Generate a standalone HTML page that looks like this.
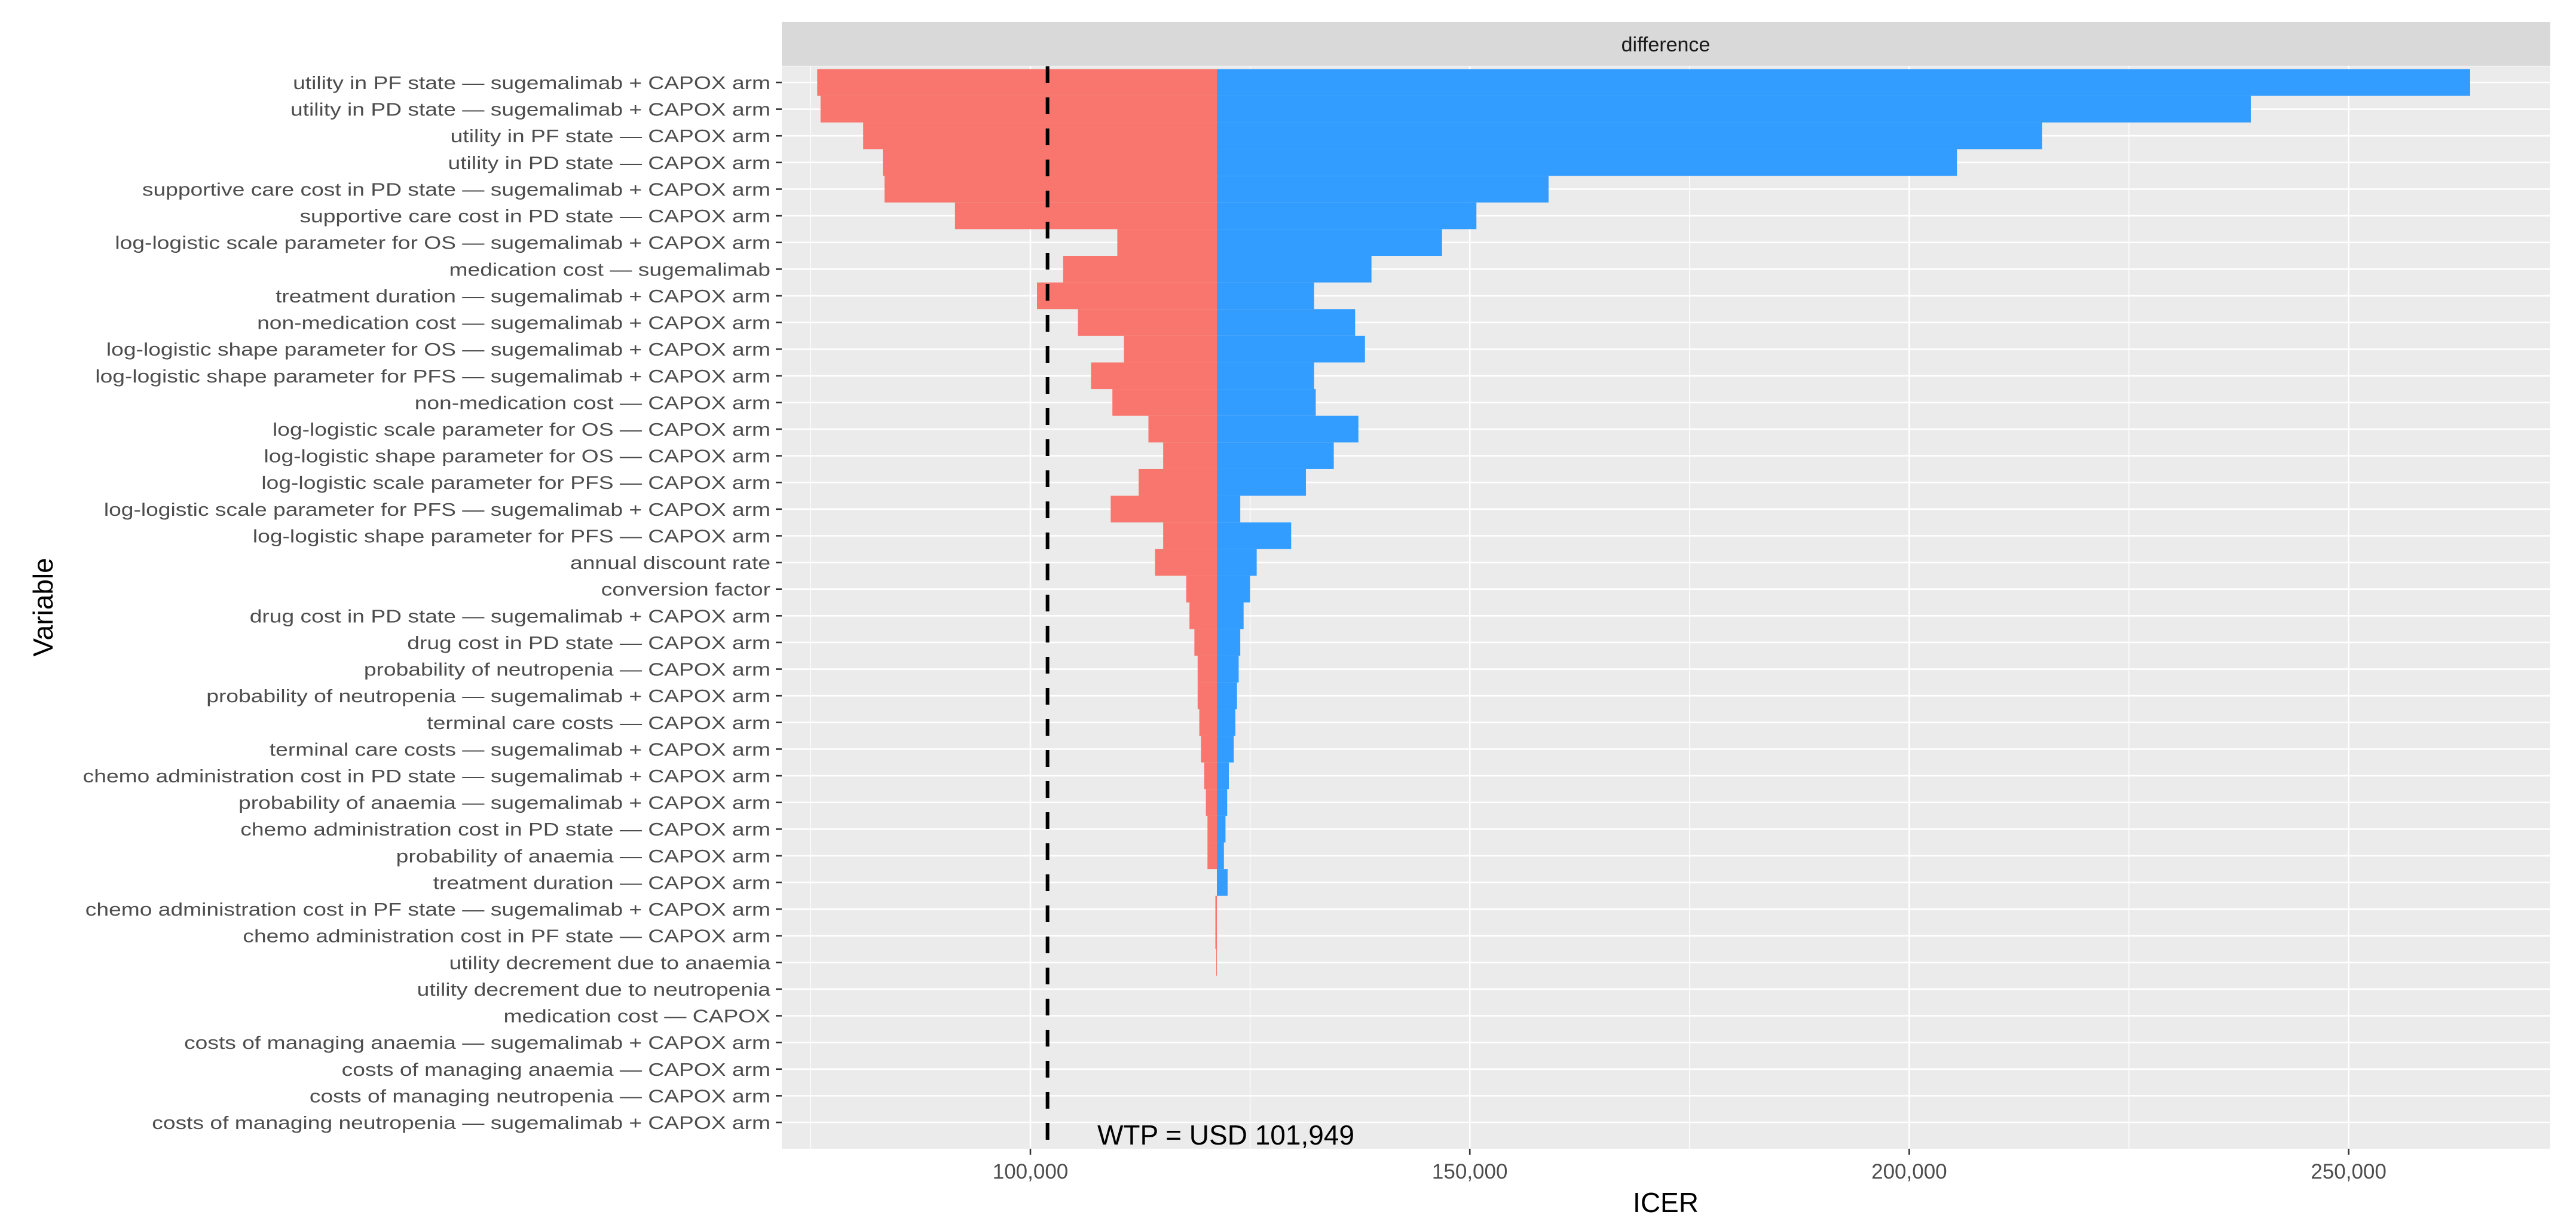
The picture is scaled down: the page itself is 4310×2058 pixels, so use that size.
<!DOCTYPE html>
<html><head><meta charset="utf-8"><style>
html,body{margin:0;padding:0;background:#fff}
svg{display:block;font-family:"Liberation Sans",Arial,sans-serif}
</style></head><body>
<svg id="chart" width="4310" height="2058" viewBox="0 0 4310 2058">
<rect x="0" y="0" width="4310" height="2058" fill="#fff"/>
<rect x="1308" y="37" width="2959" height="73" fill="#d9d9d9"/>
<text x="2787" y="86" font-size="34" fill="#1a1a1a" text-anchor="middle">difference</text>
<rect x="1308" y="111" width="2959" height="1811" fill="#ebebeb"/>
<g id="grid"></g><g id="bars"></g><g id="ylabels"></g><g id="xlabels"></g>
<text x="1836" y="1915" font-size="46" fill="#000">WTP = USD 101,949</text>
<text x="2787" y="2028" font-size="46" fill="#000" text-anchor="middle">ICER</text>
<text x="0" y="0" font-size="46" fill="#000" text-anchor="middle" transform="translate(88,1016) rotate(-90)">Variable</text>
</svg>
<script>
const variables = ["utility in PF state — sugemalimab + CAPOX arm","utility in PD state — sugemalimab + CAPOX arm","utility in PF state — CAPOX arm","utility in PD state — CAPOX arm","supportive care cost in PD state — sugemalimab + CAPOX arm","supportive care cost in PD state — CAPOX arm","log-logistic scale parameter for OS — sugemalimab + CAPOX arm","medication cost — sugemalimab","treatment duration — sugemalimab + CAPOX arm","non-medication cost — sugemalimab + CAPOX arm","log-logistic shape parameter for OS — sugemalimab + CAPOX arm","log-logistic shape parameter for PFS — sugemalimab + CAPOX arm","non-medication cost — CAPOX arm","log-logistic scale parameter for OS — CAPOX arm","log-logistic shape parameter for OS — CAPOX arm","log-logistic scale parameter for PFS — CAPOX arm","log-logistic scale parameter for PFS — sugemalimab + CAPOX arm","log-logistic shape parameter for PFS — CAPOX arm","annual discount rate","conversion factor","drug cost in PD state — sugemalimab + CAPOX arm","drug cost in PD state — CAPOX arm","probability of neutropenia — CAPOX arm","probability of neutropenia — sugemalimab + CAPOX arm","terminal care costs — CAPOX arm","terminal care costs — sugemalimab + CAPOX arm","chemo administration cost in PD state — sugemalimab + CAPOX arm","probability of anaemia — sugemalimab + CAPOX arm","chemo administration cost in PD state — CAPOX arm","probability of anaemia — CAPOX arm","treatment duration — CAPOX arm","chemo administration cost in PF state — sugemalimab + CAPOX arm","chemo administration cost in PF state — CAPOX arm","utility decrement due to anaemia","utility decrement due to neutropenia","medication cost — CAPOX","costs of managing anaemia — sugemalimab + CAPOX arm","costs of managing anaemia — CAPOX arm","costs of managing neutropenia — CAPOX arm","costs of managing neutropenia — sugemalimab + CAPOX arm"];
const baseICER = 121220;
const lowValues = [75740,76120,80970,83210,83400,91420,109890,103730,100750,105410,110640,106900,109330,113430,115110,112320,109140,115110,114180,117730,118100,118660,119030,119030,119220,119410,119780,119970,120150,120150,121220,121050,121050,121150,121220,121220,121220,121220,121220,121220];
const highValues = [263830,238870,215130,205430,158960,150750,146840,138810,132280,136950,138070,132280,132470,137320,134520,131350,123880,129670,125750,125000,124260,123880,123700,123510,123320,123140,122580,122390,122200,122020,122440,121250,121250,121250,121220,121220,121220,121220,121220,121220];
const majorTicks = [100000,150000,200000,250000];
const minorTicks = [75000,125000,175000,225000];
const tickLabels = ["100,000","150,000","200,000","250,000"];
const wtp = 101949;

const NS="http://www.w3.org/2000/svg";
const pL=1308,pR=4267,pT=111,pB=1922;
const x=v=>1724+(v-100000)*0.014704;
const y=i=>138+i*(1784/40*1.0);
const step=1784/40;
function mk(tag,attrs,parent){const e=document.createElementNS(NS,tag);for(const k in attrs)e.setAttribute(k,attrs[k]);parent.appendChild(e);return e;}
const grid=document.getElementById('grid'),bars=document.getElementById('bars'),yl=document.getElementById('ylabels'),xl=document.getElementById('xlabels');
const n=variables.length;
const rowStep=(1878-138)/(n-1);
const ry=i=>138+i*rowStep;
minorTicks.forEach(t=>{const l=mk('line',{x1:x(t),x2:x(t),y1:pT,y2:pB,stroke:'#fff','stroke-width':1.3},grid);

});
majorTicks.forEach((t,k)=>{const l=mk('line',{x1:x(t),x2:x(t),y1:pT,y2:pB,stroke:'#fff','stroke-width':2.6},grid);


const tk=mk('line',{x1:x(t),x2:x(t),y1:pB,y2:pB+10,stroke:'#333','stroke-width':2.6},xl);


const tx=mk('text',{x:x(t),y:1972,'font-size':35,fill:'#4d4d4d','text-anchor':'middle'},xl);
tx.textContent=tickLabels[k];

});
for(let i=0;i<n;i++){
 const cy=ry(i);
 const g=mk('line',{x1:pL,x2:pR,y1:cy,y2:cy,stroke:'#fff','stroke-width':2.6},grid);
 
 
 const h=rowStep;
 const lo=Math.min(lowValues[i],baseICER),hi=Math.max(highValues[i],baseICER);
 if(x(baseICER)-x(lo)>0.5){const r=mk('rect',{x:x(lo),y:cy-h/2,width:x(baseICER)-x(lo),height:h,fill:'#F8766D'},bars);
 
 }
 if(x(hi)-x(baseICER)>0.5){const b=mk('rect',{x:x(baseICER),y:cy-h/2,width:x(hi)-x(baseICER),height:h,fill:'#339DFF'},bars);
 
 }
 const tk=mk('line',{x1:pL-10,x2:pL,y1:cy,y2:cy,stroke:'#333','stroke-width':2.6},yl);
 
 
 const t=mk('text',{x:0,y:0,'font-size':31,fill:'#4d4d4d','text-anchor':'end',transform:`translate(1289,${cy+11}) scale(1.2,1)`},yl);
 t.textContent=variables[i];
 
 
}
const d=mk('line',{x1:x(wtp),x2:x(wtp),y1:pT,y2:pB,stroke:'#000','stroke-width':6,'stroke-dasharray':'28 24'},bars);


</script>
</body></html>
